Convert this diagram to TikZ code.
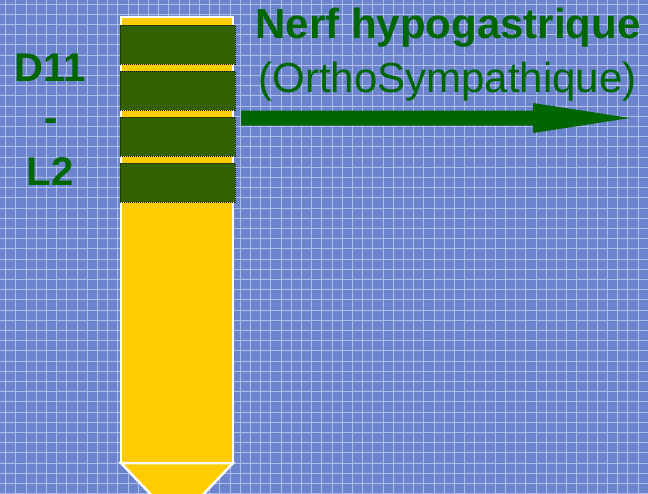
\documentclass[tikz,border=0pt]{standalone}
\usepackage{fontspec}
\setmainfont{Liberation Sans}
\usepackage{xcolor}
\definecolor{fond}{HTML}{6C84CE}
\definecolor{grille}{HTML}{AEBDEA}
\definecolor{moelle}{HTML}{FFCC00}
\definecolor{segment}{HTML}{336100}
\definecolor{nerf}{HTML}{006600}
\tikzset{
  niveau/.style={font=\fontsize{40}{40}\selectfont\bfseries, text=nerf},
  titre/.style={font=\fontsize{42}{42}\selectfont, text=nerf, inner sep=0pt},
  seg/.style={fill=segment, draw=black!70!segment, densely dotted, line width=1pt}
}

\begin{document}
\begin{tikzpicture}[x=1pt,y=-1pt]
\useasboundingbox (0,0) rectangle (648,493);
\fill[fond] (0,0) rectangle (648,493);
\clip (0,0) rectangle (648,493);
% grille du fond
\foreach \i in {0,...,63}{
  \draw[grille, line width=0.8pt] (5.5+10.2*\i,0) -- (5.5+10.2*\i,493);
}
\foreach \j in {0,...,48}{
  \draw[grille, line width=0.8pt] (0,4+10.2*\j) -- (648,4+10.2*\j);
}
% moelle
\draw[fill=moelle, draw=white, line width=2.5pt] (121,17) rectangle (233,463);
\draw[fill=moelle, draw=white, line width=2.5pt] (121,463) -- (233,463) -- (195,503) -- (159,503) -- cycle;
\node[seg, minimum width=115pt, minimum height=39pt, inner sep=0pt] (s1) at (177.5,44.5){};
\node[seg, minimum width=115pt, minimum height=39pt, inner sep=0pt] (s2) at (177.5,90.5){};
\node[seg, minimum width=115pt, minimum height=39pt, inner sep=0pt] (s3) at (177.5,136.5){};
\node[seg, minimum width=115pt, minimum height=39pt, inner sep=0pt] (s4) at (177.5,182.5){};
% niveaux
\node[niveau] (d11) at (50,68){D11};
\node[niveau] (tiret) at (51,125.5){-};
\node[niveau] (l2) at (50,172){L2};
% nerf
\node[titre, font=\fontsize{42}{42}\selectfont\bfseries] (nom) at (448,28){Nerf hypogastrique};
\node[titre] (sympa) at (447.5,82){(OrthoSympathique)};
\coordinate (depart) at (241,118);
\coordinate (pointe) at (630,118);
\fill[nerf] ([yshift=7.5pt]depart) -- ++(292,0) -- ++(0,-7.5) -- (pointe) -- ++(-97,15) -- ++(0,-7.5) -- ([yshift=-7.5pt]depart) -- cycle;
\end{tikzpicture}
\end{document}
